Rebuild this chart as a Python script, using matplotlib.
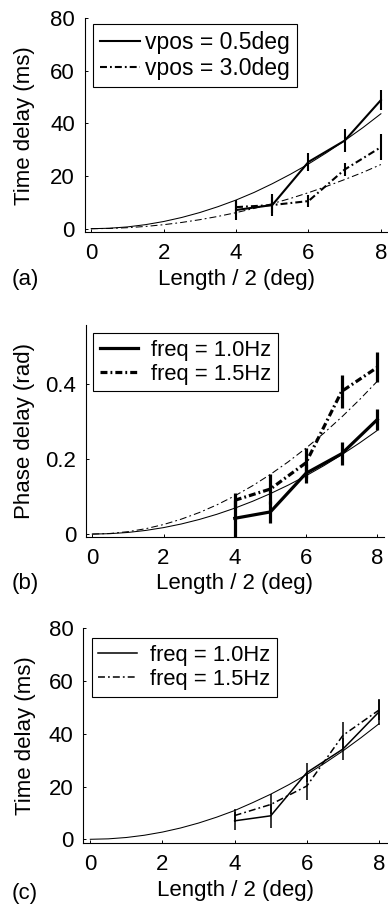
import matplotlib
matplotlib.use("Agg")
import matplotlib.pyplot as plt
from matplotlib.lines import Line2D

plt.rcParams['font.family'] = ['Liberation Sans', 'DejaVu Sans']
plt.rcParams['lines.scale_dashes'] = False
FS = 16

# ---------------- data ----------------
x_data = [4, 5, 6, 7, 8]
x_fit = [0, 0.5, 1, 1.5, 2, 2.5, 3, 3.5, 4, 4.5, 5, 5.5, 6, 6.5, 7, 7.5, 8]

# (a) time delay vs length, two vertical positions
a_vpos05 = [7.1, 9.0, 25.4, 33.5, 48.9]
a_vpos05_err = [3.8, 4.2, 3.5, 4.4, 3.7]
a_vpos30 = [8.2, 9.0, 10.5, 22.5, 31.0]
a_vpos30_err = [2.5, 3.0, 2.4, 2.5, 5.0]
a_fit05 = [0, 0.17, 0.68, 1.54, 2.73, 4.27, 6.15, 8.37, 10.9, 13.8, 17.1, 20.7, 24.6, 28.9, 33.5, 38.4, 43.7]
a_fit30 = [0, 0.10, 0.38, 0.86, 1.52, 2.38, 3.43, 4.67, 6.10, 7.72, 9.53, 11.5, 13.7, 16.1, 18.7, 21.4, 24.4]
a_labels = ['vpos = 0.5deg', 'vpos = 3.0deg']

# (b) phase delay vs length, two frequencies
b_f10 = [0.042, 0.059, 0.162, 0.214, 0.305]
b_f10_err = [0.050, 0.030, 0.025, 0.030, 0.027]
b_f15 = [0.090, 0.120, 0.190, 0.380, 0.444]
b_f15_err = [0.020, 0.040, 0.040, 0.043, 0.040]
b_fit10 = [0, 0.0011, 0.0043, 0.0097, 0.0172, 0.0269, 0.0388, 0.0528, 0.069, 0.0873, 0.1078, 0.1304, 0.1552, 0.1821, 0.2112, 0.2425, 0.276]
b_fit15 = [0, 0.0016, 0.0064, 0.0143, 0.0254, 0.0398, 0.0572, 0.0779, 0.1018, 0.1288, 0.159, 0.1924, 0.229, 0.2687, 0.3116, 0.3578, 0.407]

# (c) time delay vs length, two frequencies
c_f10 = [7.0, 8.9, 25.3, 34.2, 48.3]
c_f10_err = [3.5, 4.5, 3.6, 4.3, 5.0]
c_f15 = [9.0, 13.2, 20.2, 39.4, 49.0]
c_f15_err = [2.5, 3.8, 5.4, 5.0, 3.8]
c_fit = [0, 0.17, 0.68, 1.54, 2.74, 4.28, 6.16, 8.38, 10.9, 13.9, 17.1, 20.7, 24.6, 28.9, 33.5, 38.5, 43.8]
freq_labels = ['freq = 1.0Hz', 'freq = 1.5Hz']

xticks = [0, 2, 4, 6, 8]
time_ticks = [0, 20, 40, 60, 80]
phase_ticks = [0, 0.2, 0.4]
phase_ticklabels = ['0', '0.2', '0.4']

W, H = 388, 907
fig = plt.figure(figsize=(W / 100, H / 100), dpi=100)

def px_axes(l, r, top, bot):
    return fig.add_axes([l / W, 1 - bot / H, (r - l) / W, (bot - top) / H])

DASH = (0, (5, 2.2, 1.3, 2.2))

def style(ax, xlim, ylim, yticks, yticklabels, ylabel, ylab_x):
    ax.set_xlim(*xlim)
    ax.set_ylim(*ylim)
    ax.set_xticks(xticks)
    ax.set_xticklabels([str(v) for v in xticks])
    ax.set_yticks(yticks)
    ax.set_yticklabels(yticklabels)
    for s in ['top', 'right']:
        ax.spines[s].set_visible(False)
    for s in ['left', 'bottom']:
        ax.spines[s].set_linewidth(0.8)
    ax.tick_params(direction='in', length=2.5, width=0.7, labelsize=FS)
    ax.tick_params(axis='y', pad=7)
    ax.tick_params(axis='x', pad=8)
    ax.set_xlabel('Length / 2 (deg)', fontsize=FS, va='center')
    ax.xaxis.set_label_coords(0.5, -0.22)
    ax.set_ylabel(ylabel, fontsize=FS, va='center')
    ax.yaxis.set_label_coords(ylab_x, 0.5)

def add_legend(ax, lw, labels, anchor, fs, tpad):
    handles = [Line2D([], [], color='k', lw=lw),
               Line2D([], [], color='k', lw=lw, linestyle=DASH)]
    leg = ax.legend(handles, labels, loc='upper left', bbox_to_anchor=anchor, borderaxespad=0,
                    fontsize=fs, frameon=True, fancybox=False, framealpha=1, edgecolor='k',
                    handlelength=1.75, handletextpad=tpad, borderpad=0.3, labelspacing=0.14)
    leg.get_frame().set_linewidth(0.8)

# ---------- (a) ----------
ax = px_axes(84.7, 388, 18.3, 232.3)
ax.plot(x_fit, a_fit05, color='k', lw=0.75)
ax.plot(x_fit, a_fit30, color='k', lw=0.75, linestyle=DASH)
ax.errorbar(x_data, a_vpos05, yerr=a_vpos05_err, color='k', lw=1.5, elinewidth=1.5, capsize=0)
ax.errorbar(x_data, a_vpos30, yerr=a_vpos30_err, color='k', lw=1.5, elinewidth=1.5, capsize=0, linestyle=DASH)
style(ax, (-0.18, 8.196), (-1.37, 80), time_ticks, [str(v) for v in time_ticks],
      'Time delay (ms)', -0.197)
add_legend(ax, 1.5, a_labels, (0.0264, 0.973), 16.5, 0.25)
fig.text(25 / W, 1 - 279 / H, '(a)', fontsize=FS, ha='center', va='center')

# ---------- (b) ----------
ax = px_axes(86, 384, 325, 536.7)
ax.plot(x_fit, b_fit10, color='k', lw=0.75)
ax.plot(x_fit, b_fit15, color='k', lw=0.75, linestyle=DASH)
ax.errorbar(x_data, b_f10, yerr=b_f10_err, color='k', lw=2.3, elinewidth=2.3, capsize=0)
ax.errorbar(x_data, b_f15, yerr=b_f15_err, color='k', lw=2.3, elinewidth=2.3, capsize=0, linestyle=DASH)
style(ax, (-0.177, 8.19), (-0.007, 0.557), phase_ticks, phase_ticklabels,
      'Phase delay (rad)', -0.208)
add_legend(ax, 2.3, freq_labels, (0.0245, 0.961), 15.8, 0.6)
fig.text(25 / W, 1 - 584 / H, '(b)', fontsize=FS, ha='center', va='center')

# ---------- (c) ----------
ax = px_axes(83.3, 388, 628.3, 843.3)
ax.plot(x_fit, c_fit, color='k', lw=0.75)
ax.errorbar(x_data, c_f10, yerr=c_f10_err, color='k', lw=1.1, elinewidth=1.1, capsize=0)
ax.errorbar(x_data, c_f15, yerr=c_f15_err, color='k', lw=1.1, elinewidth=1.1, capsize=0, linestyle=DASH)
style(ax, (-0.194, 8.25), (-1.52, 80), time_ticks, [str(v) for v in time_ticks],
      'Time delay (ms)', -0.191)
add_legend(ax, 1.1, freq_labels, (0.0276, 0.953), 15.8, 0.6)
fig.text(25 / W, 1 - 893 / H, '(c)', fontsize=FS, ha='center', va='center')

fig.savefig('out.png', dpi=100, facecolor='white')
